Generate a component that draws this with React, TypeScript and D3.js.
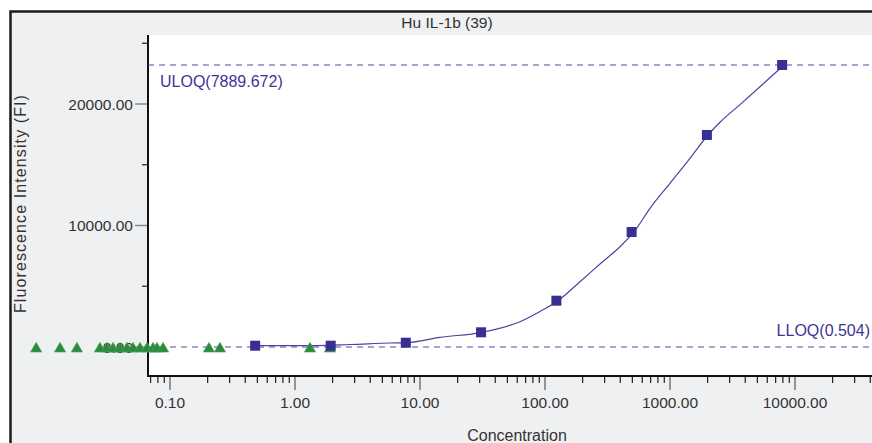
import React, { useRef, useEffect } from "react";
import * as d3 from "d3";

// standards (blue squares)
const stdConc = [0.48, 1.93, 7.7, 30.8, 123.3, 493.1, 1972.4, 7889.672];
const stdFI = [107, 107, 354, 1210, 3811, 9465, 17450, 23210];

// fitted curve
const curveConc = [0.497, 1.1, 2.75, 5.75, 7.87, 14.45, 31.3, 63.1, 91.2, 127, 190.5, 275.4, 398, 515, 692, 1000, 1445, 2014, 2512, 3631, 5248, 8166];
const curveFI = [107, 107, 206, 329, 362, 798, 1210, 2082, 2922, 3811, 5374, 6830, 8255, 9465, 11416, 13473, 15531, 17449, 18500, 19950, 21420, 23210];

// samples (green triangles)
const sampleConc = [0.0085, 0.0132, 0.018, 0.0275, 0.0313, 0.035, 0.0398, 0.0453, 0.0506, 0.0575, 0.0655, 0.0732, 0.0787, 0.088, 0.205, 0.251, 1.318, 1.905];
const sampleFI = [-150, -150, -150, -150, -150, -150, -150, -150, -150, -150, -150, -150, -150, -150, -150, -150, -150, -150];

const yTicks = [0, 10000, 20000];
const xTicks = [0.1, 1, 10, 100, 1000, 10000];

const uloqFI = 23210;
const lloqFI = 0;
const uloqLabel = "ULOQ(7889.672)";
const lloqLabel = "LLOQ(0.504)";

const App = () => {
  const svgRef = useRef(null);

  useEffect(() => {
    const svg = d3.select(svgRef.current);
    svg.selectAll("*").remove();
    const W = 872, H = 443;
    const left = 148, right = 872, top = 35, bottom = 376;
    const font = "'Liberation Sans', Arial, sans-serif";
    const purple = "#5049a4";
    const navy = "#372f94";

    const x = d3
      .scaleLog()
      .domain([Math.pow(10, -1 - 22 / 125), Math.pow(10, 4 + 77 / 125)])
      .range([left, right]);
    const y = d3.scaleLinear().domain([-2387, 25679]).range([bottom, top]);

    // background + frame
    svg.append("rect").attr("width", W).attr("height", H).attr("fill", "#fff");
    svg.append("rect").attr("x", 10).attr("y", 11).attr("width", W).attr("height", H).attr("fill", "#eff0f2");
    svg.append("path").attr("d", `M10.5,${H} V11.5 H${W}`).attr("fill", "none").attr("stroke", "#1a1a1a").attr("stroke-width", 2.5);
    svg.append("rect").attr("x", left).attr("y", top).attr("width", right - left).attr("height", bottom - top).attr("fill", "#fff");

    svg.append("text").attr("x", 447).attr("y", 28).attr("text-anchor", "middle")
      .attr("font-family", font).attr("font-size", 15.5).attr("fill", "#333").text("Hu IL-1b (39)");

    // y ticks
    const yMinor = [5000, 15000, 25000];
    svg.append("g").selectAll("line").data(yMinor).join("line")
      .attr("x1", left - 6).attr("x2", left).attr("y1", (d) => y(d)).attr("y2", (d) => y(d))
      .attr("stroke", "#222").attr("stroke-width", 1.2);
    svg.append("g").selectAll("line").data(yTicks).join("line")
      .attr("x1", left - 13).attr("x2", left).attr("y1", (d) => y(d)).attr("y2", (d) => y(d))
      .attr("stroke", "#888").attr("stroke-width", 1.5);
    svg.append("g").selectAll("text").data(yTicks).join("text")
      .attr("x", 133).attr("y", (d) => y(d)).attr("dy", "0.36em").attr("text-anchor", "end")
      .attr("font-family", font).attr("font-size", 15.5).attr("fill", "#333")
      .text((d) => d3.format(".2f")(d));

    // x ticks
    const xMinor: number[] = [];
    for (let e = -2; e <= 4; e++) {
      for (let m = 2; m <= 9; m++) {
        const v = m * Math.pow(10, e);
        if (x(v) >= left && x(v) <= right) xMinor.push(v);
      }
    }
    svg.append("g").selectAll("line").data(xMinor).join("line")
      .attr("x1", (d) => x(d)).attr("x2", (d) => x(d)).attr("y1", bottom).attr("y2", bottom + 7)
      .attr("stroke", "#222").attr("stroke-width", 1.2);
    svg.append("g").selectAll("line").data(xTicks).join("line")
      .attr("x1", (d) => x(d)).attr("x2", (d) => x(d)).attr("y1", bottom).attr("y2", bottom + 14)
      .attr("stroke", "#777").attr("stroke-width", 1.5);
    svg.append("g").selectAll("text").data(xTicks).join("text")
      .attr("x", (d) => x(d)).attr("y", 408).attr("text-anchor", "middle")
      .attr("font-family", font).attr("font-size", 15.5).attr("fill", "#333")
      .text((d) => d3.format(".2f")(d));

    // axis lines
    svg.append("line").attr("x1", left).attr("x2", left).attr("y1", top).attr("y2", bottom + 1)
      .attr("stroke", "#111").attr("stroke-width", 2);
    svg.append("line").attr("x1", left).attr("x2", right).attr("y1", bottom).attr("y2", bottom)
      .attr("stroke", "#111").attr("stroke-width", 2);

    // axis titles
    svg.append("text").attr("x", 517).attr("y", 441).attr("text-anchor", "middle")
      .attr("font-family", font).attr("font-size", 16).attr("fill", "#333").text("Concentration");
    svg.append("text").attr("transform", `translate(26,${(top + bottom) / 2 - 2}) rotate(-90)`)
      .attr("text-anchor", "middle").attr("font-family", font).attr("font-size", 16)
      .attr("letter-spacing", 1.1).attr("fill", "#333")
      .text("Fluorescence Intensity (FI)");

    // ULOQ / LLOQ
    [uloqFI, lloqFI].forEach((v) => {
      svg.append("line").attr("x1", left).attr("x2", right).attr("y1", y(v)).attr("y2", y(v))
        .attr("stroke", purple).attr("stroke-width", 1).attr("stroke-dasharray", "6,5");
    });
    svg.append("text").attr("x", 160).attr("y", y(uloqFI) + 22)
      .attr("font-family", font).attr("font-size", 16).attr("fill", "#3d3596").text(uloqLabel);
    svg.append("text").attr("x", 870).attr("y", y(lloqFI) - 11).attr("text-anchor", "end")
      .attr("font-family", font).attr("font-size", 16).attr("fill", "#3d3596").text(lloqLabel);

    // curve
    const line = d3.line<number>().x((d) => x(d)).y((d, i) => y(curveFI[i])).curve(d3.curveMonotoneX);
    svg.append("path").datum(curveConc).attr("d", line)
      .attr("fill", "none").attr("stroke", "#4b44a0").attr("stroke-width", 1.2);

    // samples
    const tri = d3.symbol().type(d3.symbolTriangle).size(55);
    svg.append("g").selectAll("path").data(sampleConc).join("path")
      .attr("d", tri)
      .attr("transform", (d, i) => `translate(${x(d)},${y(sampleFI[i])})`)
      .attr("fill", "#2b8a3c").attr("stroke", "#4ea35c").attr("stroke-width", 0.6);

    // standards
    svg.append("g").selectAll("rect").data(stdConc).join("rect")
      .attr("x", (d) => x(d) - 5).attr("y", (d, i) => y(stdFI[i]) - 5)
      .attr("width", 10).attr("height", 10).attr("fill", navy);
  }, []);

  return (
    <svg
      ref={svgRef}
      width={872}
      height={443}
      style={{ position: "absolute", left: 0, top: 0, display: "block" }}
    ></svg>
  );
};

export default App;
